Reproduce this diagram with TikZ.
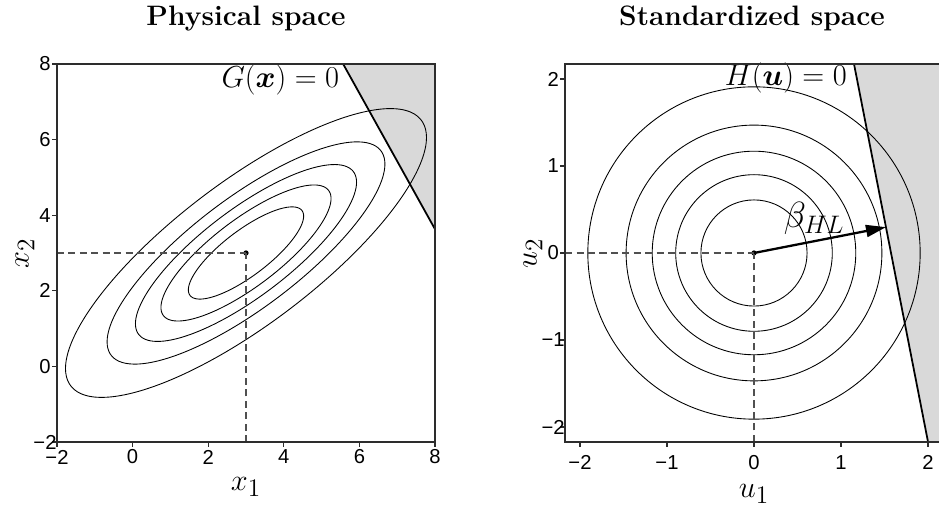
\documentclass[tikz,border=0pt]{standalone}
\usepackage{amsmath,amssymb}
\usepackage{fontspec}
\usepackage{tikz}
\usetikzlibrary{arrows.meta,positioning}
\newfontfamily\tickfont{Liberation Sans}
\definecolor{cfail}{RGB}{217,217,217}
\definecolor{cframe}{RGB}{45,45,45}
\definecolor{cguide}{RGB}{80,80,80}
\newcommand{\bigmath}[1]{\fontsize{#1}{#1}\selectfont}

\begin{document}
\begin{tikzpicture}[
    contour/.style={line width=0.5pt},
    guide/.style={cguide, line width=0.6pt, dash pattern=on 4pt off 2.5pt},
    frame/.style={cframe, line width=0.9pt},
    lsf/.style={line width=1pt},
    ticklab/.style={font=\tickfont\fontsize{11.5}{13}\selectfont, inner sep=0pt},
    ptitle/.style={font=\bigmath{16}\bfseries, anchor=base},
    axlab/.style={font=\bigmath{19}}
  ]
  \useasboundingbox (0,0) rectangle (18.78,10.26);

  % titles
  \node[ptitle] (tphys) at (4.92,9.74) {Physical space};
  \node[ptitle] (tstd) at (15.04,9.74) {Standardized space};

  % physical space
  \begin{scope}[x=0.756cm, y=0.756cm, shift={(2.652cm,2.932cm)}]
    \fill[cfail] (5.57,8) -- (8,8) -- (8,3.63) -- cycle;
    \foreach \lev in {0.61,0.90,1.17,1.47,1.91}
      \draw[contour] plot[variable=\t, domain=0:360, samples=121, smooth]
        ({3+\lev*2.5*cos(\t)}, {3+\lev*2*(0.8*cos(\t)+0.6*sin(\t))});
    \coordinate (gtop) at (5.57,8);
    \coordinate (gbot) at (8,3.63);
    \draw[lsf] (gtop) -- (gbot);
    \node[circle, fill, inner sep=0pt, minimum size=3pt] (xmean) at (3,3) {};
    \coordinate (xleft) at (-2,3);
    \coordinate (xbase) at (3,-2);
    \draw[guide] (xleft) -- (xmean.center);
    \draw[guide] (xbase) -- (xmean.center);
    \node[font=\bigmath{16.5}, anchor=base east, inner sep=1pt] (glab) at (5.52,7.37) {$G(\boldsymbol{x})=0$};
    \draw[frame] (-2,-2) rectangle (8,8);
    \foreach \v/\txt in {-2/−2,0/0,2/2,4/4,6/6,8/8} {
      \draw[frame, line width=0.6pt] (\v,-2) -- ++(0,-3pt);
      \draw[frame, line width=0.6pt] (-2,\v) -- ++(-3pt,0);
      \node[ticklab, yshift=-0.3cm] (xt\v) at (\v,-2) {\txt};
      \node[ticklab, xshift=-0.24cm] (yt\v) at (-2,\v) {\txt};
    }
  \end{scope}

  % standardized space
  \begin{scope}[x=1.74cm, y=1.74cm, shift={(15.08cm,5.2cm)}]
    \fill[cfail] (1.15,2.17) -- (2.17,2.17) -- (2.17,-2.17) -- (2.0,-2.17) -- cycle;
    \foreach \lev in {0.61,0.90,1.17,1.47,1.91}
      \draw[contour] (0,0) circle[radius=\lev];
    \coordinate (htop) at (1.15,2.17);
    \coordinate (hbot) at (2.0,-2.17);
    \draw[lsf] (htop) -- (hbot);
    \node[circle, fill, inner sep=0pt, minimum size=3pt] (umean) at (0,0) {};
    \coordinate (uleft) at (-2.17,0);
    \coordinate (ubase) at (0,-2.17);
    \draw[guide] (uleft) -- (umean.center);
    \draw[guide] (ubase) -- (umean.center);
    \coordinate (dpoint) at (1.517,0.297);
    \draw[line width=1.3pt, -{Triangle[length=0.4cm,width=0.24cm]}] (umean.center) -- (dpoint);
    \node[font=\bigmath{20}, anchor=base west, inner sep=0pt] (blab) at (0.34,0.29) {$\beta_{HL}$};
    \node[font=\bigmath{16.5}, anchor=base east, inner sep=1pt] (hlab) at (1.09,1.92) {$H(\boldsymbol{u})=0$};
    \draw[frame] (-2.17,-2.17) rectangle (2.17,2.17);
    \foreach \v/\txt in {-2/−2,-1/−1,0/0,1/1,2/2} {
      \draw[frame, line width=0.6pt] (\v,-2.17) -- ++(0,-3pt);
      \draw[frame, line width=0.6pt] (-2.17,\v) -- ++(-3pt,0);
      \node[ticklab, yshift=-0.42cm] (ut\v) at (\v,-2.17) {\txt};
      \node[ticklab, xshift=-0.24cm] (vt\v) at (-2.17,\v) {\txt};
    }
  \end{scope}

  % axis labels
  \node[axlab, anchor=base] (xonelab) at (4.92,0.44) {$x_1$};
  \node[axlab, rotate=90] (xtwolab) at (0.5,5.2) {$x_2$};
  \node[axlab, anchor=base] (uonelab) at (15.08,0.3) {$u_1$};
  \node[axlab, rotate=90] (utwolab) at (10.66,5.2) {$u_2$};
\end{tikzpicture}
\end{document}
